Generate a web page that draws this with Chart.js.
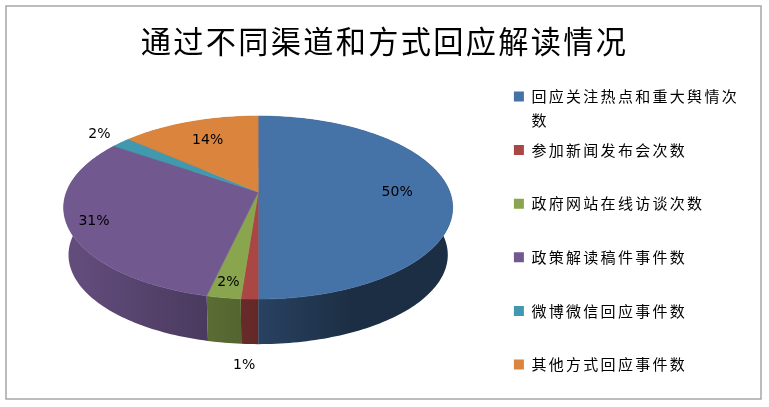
<!DOCTYPE html>
<html>
<head>
<meta charset="utf-8">
<title>通过不同渠道和方式回应解读情况</title>
<script src="https://cdn.jsdelivr.net/npm/chart.js@4/dist/chart.umd.min.js"></script>
<style>
  html, body { margin: 0; padding: 0; background: #fff; }
  #wrap { width: 769px; height: 407px; }
</style>
</head>
<body>
<div id="wrap"><canvas id="pie" width="769" height="407"></canvas></div>
<script>
const chartTitle = '通过不同渠道和方式回应解读情况';
const categories = ['回应关注热点和重大舆情次数', '参加新闻发布会次数', '政府网站在线访谈次数', '政策解读稿件事件数', '微博微信回应事件数', '其他方式回应事件数'];
const shares = [50, 1.2, 2.4, 31, 1.9, 13.5];
const colors = ['#4572a7', '#aa4643', '#89a54e', '#71588f', '#4198af', '#db843d'];
// how far out each percent label sits, as a fraction of the radius
const labelRadius = [0.725, 1.465, 0.88, 0.87, 1.18, 0.71];

// look of the tilted pie; dx/dy move it off the middle of the chart area
const tilt = { k: 0.169, rx: 191.7, ry: 88.9, drop: 47.7, shrink: 0.975, dx: 10.5, dy: -64 };

// radial position -> screen, with a bit of perspective
function project(el, angle, r, lower) {
    const u = Math.cos(angle) * r;
    const v = Math.sin(angle) * r;
    const w = 1 - tilt.k * v;
    const s = lower ? tilt.shrink : 1;
    return {
        x: el.x + tilt.dx + s * tilt.rx * u / w,
        y: el.y + tilt.dy + (lower ? tilt.drop : 0) + s * tilt.ry * v / w
    };
}

function shade(hex, u) {
    const f = u <= 0 ? 0.58 - u * 0.3 : Math.max(0.4, 0.58 - u * 0.36);
    const n = parseInt(hex.slice(1), 16);
    return 'rgb(' + Math.round((n >> 16) * f) + ',' + Math.round(((n >> 8) & 255) * f) + ',' + Math.round((n & 255) * f) + ')';
}

function anglesOf(el) {
    const steps = Math.max(2, Math.ceil((el.endAngle - el.startAngle) / 0.02));
    const list = [];
    for (let s = 0; s <= steps; s++) {
        list.push(el.startAngle + (el.endAngle - el.startAngle) * s / steps);
    }
    return list;
}

const pie3d = {
    id: 'pie3d',
    beforeLayout(chart) {
        chart.ctx.letterSpacing = '2.3px';
    },
    beforeDraw(chart) {
        const ctx = chart.ctx;
        ctx.letterSpacing = '2.3px';
        ctx.save();
        ctx.strokeStyle = '#a6a6a6';
        ctx.lineWidth = 1.5;
        ctx.strokeRect(6, 6, 755, 393);
        ctx.restore();
    },
    // replaces the flat arcs
    beforeDatasetsDraw(chart) {
        const ctx = chart.ctx;
        const arcs = chart.getDatasetMeta(0).data;
        ctx.save();
        ctx.letterSpacing = '0px';

        // side wall: swept quads, one path per slice so no seams show
        arcs.forEach((el, i) => {
            const angles = anglesOf(el);
            const left = el.x + tilt.dx - tilt.rx;
            const grad = ctx.createLinearGradient(left, 0, left + tilt.rx * 2, 0);
            for (let t = 0; t <= 20; t++) {
                grad.addColorStop(t / 20, shade(colors[i], t / 10 - 1));
            }
            ctx.beginPath();
            for (let n = 0; n < angles.length - 1; n++) {
                const a = project(el, angles[n], 1, false);
                const b = project(el, angles[n + 1], 1, false);
                const c = project(el, angles[n + 1], 1, true);
                const d = project(el, angles[n], 1, true);
                ctx.moveTo(a.x, a.y);
                ctx.lineTo(b.x, b.y);
                ctx.lineTo(c.x, c.y);
                ctx.lineTo(d.x, d.y);
                ctx.closePath();
            }
            ctx.fillStyle = grad;
            ctx.fill();
        });

        // top face
        arcs.forEach((el, i) => {
            ctx.beginPath();
            ctx.moveTo(el.x + tilt.dx, el.y + tilt.dy);
            anglesOf(el).forEach(a => {
                const p = project(el, a, 1, false);
                ctx.lineTo(p.x, p.y);
            });
            ctx.closePath();
            ctx.fillStyle = colors[i];
            ctx.strokeStyle = colors[i];
            ctx.lineWidth = 0.6;
            ctx.fill();
            ctx.stroke();
        });

        // percent labels
        ctx.fillStyle = '#000';
        ctx.font = '14px "DejaVu Sans"';
        ctx.textAlign = 'center';
        ctx.textBaseline = 'middle';
        arcs.forEach((el, i) => {
            const mid = (el.startAngle + el.endAngle) / 2;
            const p = project(el, mid, labelRadius[i], false);
            ctx.fillText(Math.round(shares[i]) + '%', p.x, p.y);
        });
        ctx.restore();
        return false;
    },
    afterDraw(chart) {
        // second line of the long legend entry
        const box = chart.legend.legendHitBoxes[0];
        const ctx = chart.ctx;
        ctx.save();
        ctx.fillStyle = '#000';
        ctx.font = '15px "Noto Sans CJK SC"';
        ctx.textAlign = 'left';
        ctx.textBaseline = 'middle';
        ctx.fillText(categories[0].slice(12), box.left + 17.5, box.top + box.height / 2 + 24);
        ctx.restore();
    }
};

new Chart(document.getElementById('pie').getContext('2d'), {
    type: 'pie',
    data: {
        labels: categories,
        datasets: [{ data: shares, backgroundColor: colors, borderWidth: 0 }]
    },
    plugins: [pie3d],
    options: {
        responsive: false,
        animation: false,
        layout: { padding: { left: 20, right: 20, top: 8, bottom: -46 } },
        plugins: {
            tooltip: { enabled: false },
            title: {
                display: true,
                text: chartTitle,
                color: '#000',
                font: { family: '"Noto Sans CJK SC"', size: 30.2, weight: 'normal' },
                padding: { top: 15, bottom: 46 }
            },
            legend: {
                position: 'right',
                labels: {
                    color: '#000',
                    boxWidth: 10,
                    boxHeight: 10,
                    padding: 38.6,
                    font: { family: '"Noto Sans CJK SC"', size: 15 },
                    generateLabels() {
                        return categories.map((name, i) => ({
                            text: name.slice(0, 12),
                            fillStyle: colors[i],
                            strokeStyle: colors[i],
                            lineWidth: 0,
                            index: i
                        }));
                    }
                }
            }
        }
    }
});
</script>
</body>
</html>
